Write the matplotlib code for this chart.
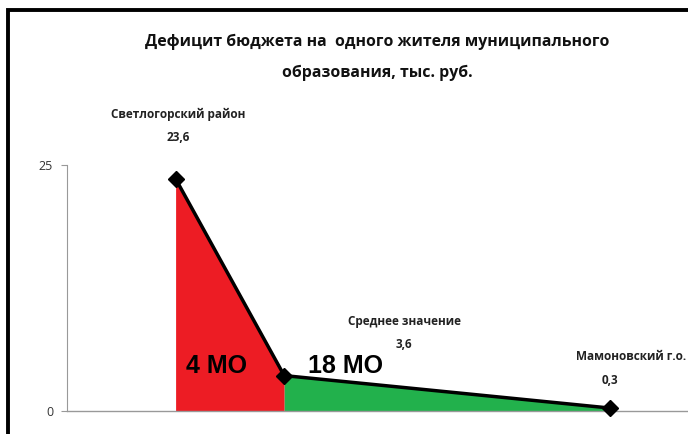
import matplotlib.pyplot as plt
from matplotlib.patches import Rectangle

# data
names = ["Светлогорский район", "Среднее значение", "Мамоновский г.о."]
values = [23.6, 3.6, 0.3]
value_labels = ["23,6", "3,6", "0,3"]
x_pos = [1, 2, 5]
group_labels = ["4 МО", "18 МО"]

plt.rcParams['font.family'] = ['Open Sans', 'DejaVu Sans']

fig = plt.figure(figsize=(6.88, 4.34), dpi=100)
ax = fig.add_axes([0.0974, 0.053, 0.947, 0.5668])

ax.fill_between(x_pos[0:2], values[0:2], 0, color="#ed1c24", linewidth=0)
ax.fill_between(x_pos[1:3], values[1:3], 0, color="#22b14c", linewidth=0)
ax.plot(x_pos, values, color="black", linewidth=2.5, marker="D", markersize=8,
        zorder=5, clip_on=False)

ax.set_xlim(0, 6)
ax.set_ylim(0, 25)
ax.set_yticks([0, 25])
ax.set_xticks([])
for s in ["top", "right"]:
    ax.spines[s].set_visible(False)
ax.spines["left"].set_color("#999999")
ax.spines["bottom"].set_color("#999999")
ax.spines["left"].set_linewidth(0.8)
ax.spines["bottom"].set_linewidth(1.0)
ax.tick_params(axis="y", colors="#999999", labelcolor="#333333", length=4,
               labelsize=9, pad=6)

# data labels: name line and value line
name_offsets = [(3, 64), (120, 54), (-34, 52)]
name_ha = ["center", "center", "left"]
value_offsets = [(3, 41), (120, 31), (0, 28)]
for xi, v, n, vl, no, ha, vo in zip(x_pos, values, names, value_labels,
                                    name_offsets, name_ha, value_offsets):
    ax.annotate(n, (xi, v), xytext=no, textcoords="offset pixels",
                ha=ha, va="center", fontsize=8.5, fontweight="bold",
                color="#222222", annotation_clip=False)
    ax.annotate(vl, (xi, v), xytext=vo, textcoords="offset pixels",
                ha="center", va="center", fontsize=8.5, fontweight="bold",
                color="#222222", annotation_clip=False)

ax.text(1.1, 4.6, group_labels[0], fontsize=18, fontweight="bold",
        family="Liberation Sans", va="center", ha="left")
ax.text(2.22, 4.6, group_labels[1], fontsize=18, fontweight="bold",
        family="Liberation Sans", va="center", ha="left")

fig.text(0.548, 0.868, "Дефицит бюджета на  одного жителя муниципального\nобразования, тыс. руб.",
         ha="center", va="center", fontsize=11.4, fontweight="bold", linespacing=2.25,
         color="#111111")

fig.patches.append(Rectangle((8 / 688, -0.1), 1.2, (434 - 10) / 434 + 0.1,
                             transform=fig.transFigure, fill=False,
                             edgecolor="black", linewidth=2.8))

fig.savefig("out.png", dpi=100)
